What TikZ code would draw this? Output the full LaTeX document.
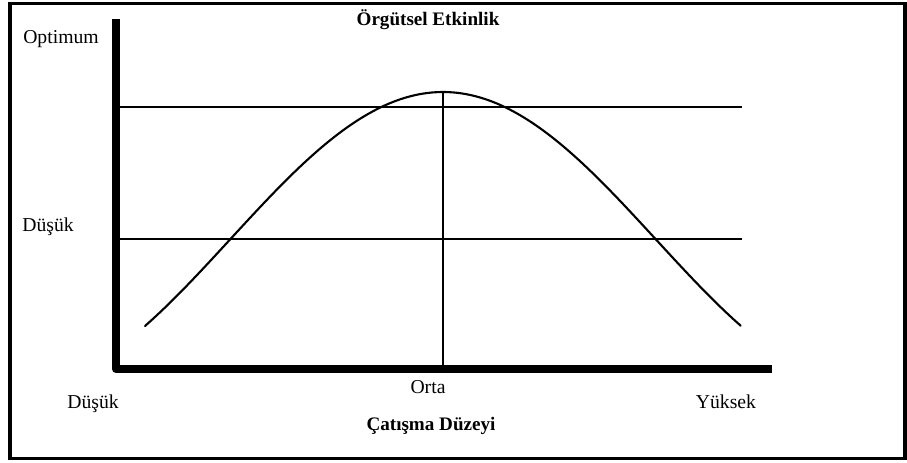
\documentclass[tikz,border=0pt]{standalone}
\usepackage{fontspec}
\setmainfont{Liberation Serif}

\begin{document}
\begin{tikzpicture}[x=0.03cm,y=-0.03cm,
  lbl/.style={inner sep=0pt,anchor=base,font=\fontsize{16.8}{19}\selectfont},
  boldlbl/.style={lbl,font=\fontsize{16.3}{19}\selectfont\bfseries},
  thinline/.style={line width=1.8pt},
  axisline/.style={line width=6.8pt,line join=round}]
\useasboundingbox (0,0) rectangle (907,462);
% frame
\draw[line width=3pt] (10,3.5) rectangle (905,458.5);
% axes
\coordinate (ytop) at (116,19);
\coordinate (origin) at (116,369);
\coordinate (xend) at (772,369);
\draw[axisline] (ytop) -- (origin) -- (xend);
% levels
\coordinate (opt0) at (120,107);
\coordinate (opt1) at (742,107);
\coordinate (low0) at (120,239);
\coordinate (low1) at (742,239);
\draw[thinline] (opt0) -- (opt1);
\draw[thinline] (low0) -- (low1);
% middle line
\coordinate (peak) at (443,92);
\coordinate (foot) at (443,365);
\draw[thinline] (peak) -- (foot);
% curve
\draw[thinline,line cap=round] plot[domain=-1:1,samples=90,smooth]
  ({443+298*\x},{92+234*(1-cos(126*\x))/1.5878});
% labels
\node[boldlbl] (title) at (428,25) {Örgütsel Etkinlik};
\node[lbl] (optimum) at (61,43) {Optimum};
\node[lbl] (lowy) at (48,231) {Düşük};
\node[lbl] (lowx) at (93,408) {Düşük};
\node[lbl] (mid) at (428,393) {Orta};
\node[lbl] (high) at (726,408) {Yüksek};
\node[boldlbl] (xlabel) at (431,430) {Çatışma Düzeyi};
\end{tikzpicture}
\end{document}
